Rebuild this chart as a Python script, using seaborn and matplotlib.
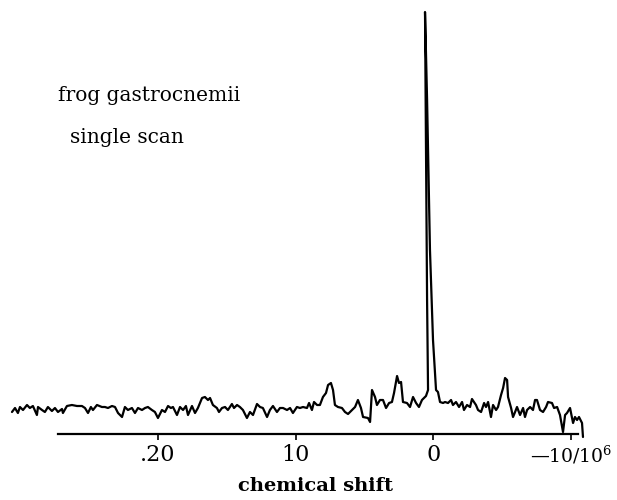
import matplotlib
matplotlib.use("Agg")
import matplotlib.pyplot as plt
import seaborn as sns
import pandas as pd

# Single-scan NMR trace, frog gastrocnemii (chemical shift in ppm)
shift_ppm = [
    30.60, 30.38, 30.17, 30.02, 29.80, 29.51, 29.30, 29.08, 28.79, 28.71,
    28.42, 28.21, 27.99, 27.70, 27.48, 27.26, 26.97, 26.90, 26.61, 26.25,
    25.88, 25.52, 25.30, 25.08, 24.87, 24.72, 24.43, 24.07, 23.85, 23.63,
    23.34, 23.12, 22.90, 22.61, 22.40, 22.18, 21.89, 21.67, 21.45, 21.16,
    20.94, 20.73, 20.44, 20.22, 20.00, 19.71, 19.49, 19.27, 19.06, 18.91,
    18.62, 18.40, 18.18, 17.97, 17.82, 17.53, 17.31, 17.10, 16.80, 16.59,
    16.37, 16.22, 16.01, 15.72, 15.57, 15.35, 15.13, 14.92, 14.63, 14.48,
    14.26, 14.05, 13.83, 13.54, 13.32, 13.10, 12.81, 12.59, 12.38, 12.08,
    11.87, 11.65, 11.36, 11.14, 10.92, 10.63, 10.41, 10.20, 9.91, 9.69,
    9.47, 9.18, 9.03, 8.82, 8.67, 8.45, 8.24, 8.02, 7.80, 7.65,
    7.44, 7.29, 7.15, 6.93, 6.64, 6.42, 6.20, 5.91, 5.69, 5.48,
    5.26, 5.11, 4.75, 4.60, 4.46, 4.24, 4.10, 3.88, 3.66, 3.44,
    3.22, 3.01, 2.86, 2.64, 2.50, 2.35, 2.21, 1.92, 1.70, 1.48,
    1.26, 1.05, 0.83, 0.54, 0.39, 0.46, 0.54, 0.61, 0.46, 0.25,
    0.03, -0.19, -0.33, -0.48, -0.70, -0.84, -1.06, -1.28, -1.42, -1.64,
    -1.86, -2.08, -2.22, -2.44, -2.66, -2.80, -3.09, -3.24, -3.46, -3.68,
    -3.82, -3.97, -4.18, -4.33, -4.55, -4.69, -4.91, -5.06, -5.20, -5.35,
    -5.42, -5.64, -5.78, -5.93, -6.07, -6.29, -6.51, -6.65, -6.80, -7.02,
    -7.23, -7.38, -7.52, -7.74, -7.96, -8.18, -8.32, -8.61, -8.76, -8.98,
    -9.19, -9.41, -9.56, -9.70, -9.92, -10.14, -10.28, -10.43, -10.57, -10.79,
    -10.86,
]
signal = [
    -0.5, 0.5, -0.75, 0.75, 0.0, 1.25, 0.5, 1.0, -1.25, 0.75,
    0.0, -0.5, 0.75, -0.25, 0.5, -0.5, 0.25, -0.75, 1.0, 1.25,
    1.0, 1.0, 0.5, -0.75, 0.75, 0.0, 1.25, 0.75, 0.75, 0.5,
    1.0, 0.75, -0.75, -1.75, 0.75, 0.0, 0.5, -0.75, 0.5, 0.0,
    0.5, 0.75, 0.0, -0.5, -2.0, 0.0, -0.5, 1.0, 0.5, 0.75,
    -1.25, 0.75, 0.0, 1.0, -1.25, 1.0, -0.75, 0.5, 3.0, 3.25,
    2.5, 3.0, 1.25, 0.5, -0.5, 0.5, 0.75, 0.0, 1.5, 0.5,
    1.25, 0.75, 0.0, -2.0, -0.5, -1.25, 1.5, 0.75, 0.5, -1.75,
    0.0, 1.0, -0.5, 0.5, 0.5, 0.0, 0.5, -0.75, 0.75, 0.5,
    0.75, 0.5, 1.75, 0.0, 2.0, 1.25, 1.25, 3.25, 4.25, 6.25,
    6.75, 5.0, 1.25, 0.75, 0.5, -0.5, -1.0, 0.0, 0.75, 2.5,
    0.5, -1.75, -2.0, -3.0, 5.0, 3.25, 1.25, 2.5, 2.5, 0.5,
    1.75, 2.0, 4.25, 8.5, 6.75, 7.0, 2.0, 1.75, 0.75, 3.25,
    1.75, 0.75, 2.5, 3.5, 5.0, 27.5, 65.0, 99.5, 77.5, 40.0,
    17.5, 5.0, 4.5, 2.0, 1.75, 2.0, 1.75, 2.5, 1.25, 2.0,
    0.75, 2.0, 0.0, 1.25, 0.75, 2.75, 1.25, 0.0, -0.5, 1.75,
    0.75, 2.0, -1.75, 1.25, 0.0, 0.75, 3.75, 5.5, 8.0, 7.5,
    3.25, 0.5, -1.75, -0.5, 0.75, -1.25, 0.5, -1.75, 0.0, 0.75,
    0.0, 2.5, 2.5, 0.0, -0.5, 0.75, 2.0, 1.75, 0.5, 0.75,
    -1.25, -5.5, -1.25, -0.75, 0.5, -3.25, -1.75, -2.5, -1.75, -3.25,
    -6.75,
]

tick_values = [20, 10, 0, -10]
tick_labels = [".20", "10", "0", "\u201410/10$^{6}$"]
axis_span = (27.26, -10.50)

df = pd.DataFrame({"shift": shift_ppm, "signal": signal})

sns.set_style("white")
plt.rcParams["font.family"] = ["DejaVu Serif"]
plt.rcParams["mathtext.fontset"] = "dejavuserif"
plt.rcParams["text.color"] = "black"
plt.rcParams["axes.labelcolor"] = "black"

fig = plt.figure(figsize=(6.17, 5.0), dpi=100)
ax = fig.add_axes([0.0, 0.132, 1.0, 0.868])

sns.lineplot(data=df, x="shift", y="signal", sort=False, estimator=None,
             color="black", linewidth=1.6, ax=ax, clip_on=False)

ax.set_xlim(31.47, -13.33)
ax.set_ylim(-6.0, 102.5)

for side in ("top", "left", "right"):
    ax.spines[side].set_visible(False)
ax.spines["bottom"].set_bounds(*axis_span)
ax.spines["bottom"].set_linewidth(1.6)
ax.spines["bottom"].set_color("black")

ax.set_yticks([])
ax.set_xticks(tick_values)
ax.set_xticklabels(tick_labels)
ax.tick_params(axis="x", direction="out", length=4, width=1.2, pad=3,
               labelsize=16, colors="black", bottom=True)
ax.get_xticklabels()[-1].set_fontsize(13.5)
ax.set_xlabel("chemical shift", fontsize=14, fontweight="bold",
              color="black")
ax.xaxis.set_label_coords(316 / 617, -43 / 434)
ax.set_ylabel("")

fig.text(58 / 617, 1 - 101 / 500, "frog gastrocnemii", fontsize=14.5,
         ha="left", va="baseline", color="black")
fig.text(70 / 617, 1 - 143 / 500, "single scan", fontsize=14.5,
         ha="left", va="baseline", color="black")

fig.savefig("out.png", dpi=100, facecolor="white")
